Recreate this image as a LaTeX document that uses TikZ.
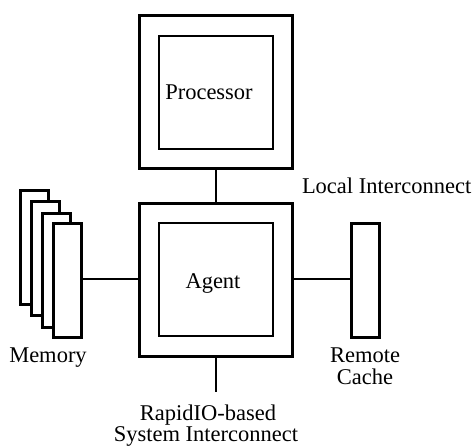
\documentclass[tikz,border=0pt]{standalone}
\usepackage{fontspec}
\setmainfont{Liberation Serif}
\begin{document}
\begin{tikzpicture}[x=1pt,y=-1pt,
  every node/.style={inner sep=0pt,outer sep=0pt},
  outerbox/.style={draw,line width=3pt,rectangle,minimum width=153pt,minimum height=153pt},
  innerbox/.style={draw,line width=2pt,rectangle,minimum width=114pt,minimum height=113pt},
  bank/.style={draw,fill=white,line width=3pt,rectangle,minimum width=28pt,minimum height=114pt},
  wire/.style={line width=2pt},
  lbl/.style={font=\fontsize{22.5}{27}\selectfont,anchor=base}]
\useasboundingbox (0,0) rectangle (475,447);
% Processor
\node[outerbox] (procout) at (216,91.5) {};
\node[innerbox] (procin) at (216,92) {};
\node[lbl] (proclbl) at (209,99.5) {Processor};
% Agent
\node[outerbox] (agentout) at (216,280.2) {};
\node[innerbox] (agentin) at (216,279.5) {};
\node[lbl] (agentlbl) at (213,288) {Agent};
% Memory stack
\node[bank] (m1) at (34.3,247.5) {};
\node[bank] (m2) at (45.8,258.5) {};
\node[bank] (m3) at (56.5,270) {};
\node[bank] (m4) at (67,280.7) {};
% Remote cache
\node[bank] (rc) at (365,280) {};
% Connectors
\coordinate (sysend) at (216,392);
\draw[wire] (procout.south) -- (agentout.north);
\draw[wire] (m4.east |- 0,279) -- (agentout.west |- 0,279);
\draw[wire] (agentout.east |- 0,279) -- (rc.west |- 0,279);
\draw[wire] (agentout.south) -- (sysend);
% Labels
\node[lbl,anchor=base west] (local) at (302,193) {Local Interconnect};
\node[lbl] (memlbl) at (48,362.7) {Memory};
\node[lbl] (rclbl1) at (365,362.7) {Remote};
\node[lbl] (rclbl2) at (365,384.3) {Cache};
\node[lbl] (sys1) at (208,420.5) {RapidIO-based};
\node[lbl] (sys2) at (206,441.5) {System Interconnect};
\end{tikzpicture}
\end{document}
